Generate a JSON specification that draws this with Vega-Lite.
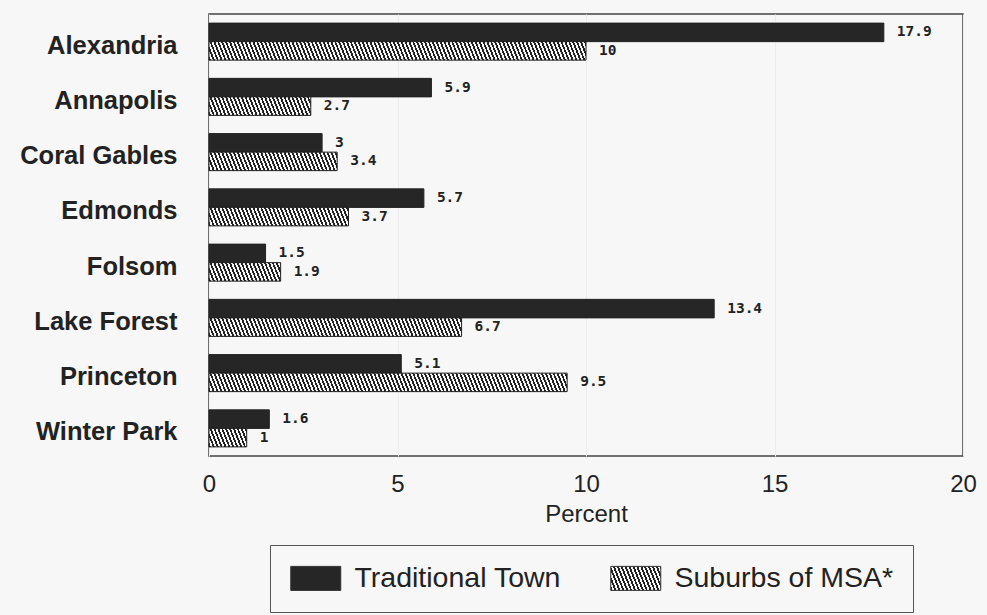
{
"$schema":"https://vega.github.io/schema/vega-lite/v6.json",
"width":754,"height":442,
"autosize":{"type":"none"},
"padding":{"left":209,"top":14,"right":24,"bottom":159},
"background":"#f7f7f7",
"params":[{"name":"hatch","value":[
{"offset":0,"color":"#222"},
{"offset":0.005,"color":"#222"},{"offset":0.005,"color":"#f7f7f7"},{"offset":0.01,"color":"#f7f7f7"},{"offset":0.01,"color":"#222"},
{"offset":0.015,"color":"#222"},{"offset":0.015,"color":"#f7f7f7"},{"offset":0.02,"color":"#f7f7f7"},{"offset":0.02,"color":"#222"},
{"offset":0.025,"color":"#222"},{"offset":0.025,"color":"#f7f7f7"},{"offset":0.03,"color":"#f7f7f7"},{"offset":0.03,"color":"#222"},
{"offset":0.035,"color":"#222"},{"offset":0.035,"color":"#f7f7f7"},{"offset":0.04,"color":"#f7f7f7"},{"offset":0.04,"color":"#222"},
{"offset":0.045,"color":"#222"},{"offset":0.045,"color":"#f7f7f7"},{"offset":0.05,"color":"#f7f7f7"},{"offset":0.05,"color":"#222"},
{"offset":0.055,"color":"#222"},{"offset":0.055,"color":"#f7f7f7"},{"offset":0.06,"color":"#f7f7f7"},{"offset":0.06,"color":"#222"},
{"offset":0.065,"color":"#222"},{"offset":0.065,"color":"#f7f7f7"},{"offset":0.07,"color":"#f7f7f7"},{"offset":0.07,"color":"#222"},
{"offset":0.075,"color":"#222"},{"offset":0.075,"color":"#f7f7f7"},{"offset":0.08,"color":"#f7f7f7"},{"offset":0.08,"color":"#222"},
{"offset":0.085,"color":"#222"},{"offset":0.085,"color":"#f7f7f7"},{"offset":0.09,"color":"#f7f7f7"},{"offset":0.09,"color":"#222"},
{"offset":0.095,"color":"#222"},{"offset":0.095,"color":"#f7f7f7"},{"offset":0.1,"color":"#f7f7f7"},{"offset":0.1,"color":"#222"},
{"offset":0.105,"color":"#222"},{"offset":0.105,"color":"#f7f7f7"},{"offset":0.11,"color":"#f7f7f7"},{"offset":0.11,"color":"#222"},
{"offset":0.115,"color":"#222"},{"offset":0.115,"color":"#f7f7f7"},{"offset":0.12,"color":"#f7f7f7"},{"offset":0.12,"color":"#222"},
{"offset":0.125,"color":"#222"},{"offset":0.125,"color":"#f7f7f7"},{"offset":0.13,"color":"#f7f7f7"},{"offset":0.13,"color":"#222"},
{"offset":0.135,"color":"#222"},{"offset":0.135,"color":"#f7f7f7"},{"offset":0.14,"color":"#f7f7f7"},{"offset":0.14,"color":"#222"},
{"offset":0.145,"color":"#222"},{"offset":0.145,"color":"#f7f7f7"},{"offset":0.15,"color":"#f7f7f7"},{"offset":0.15,"color":"#222"},
{"offset":0.155,"color":"#222"},{"offset":0.155,"color":"#f7f7f7"},{"offset":0.16,"color":"#f7f7f7"},{"offset":0.16,"color":"#222"},
{"offset":0.165,"color":"#222"},{"offset":0.165,"color":"#f7f7f7"},{"offset":0.17,"color":"#f7f7f7"},{"offset":0.17,"color":"#222"},
{"offset":0.175,"color":"#222"},{"offset":0.175,"color":"#f7f7f7"},{"offset":0.18,"color":"#f7f7f7"},{"offset":0.18,"color":"#222"},
{"offset":0.185,"color":"#222"},{"offset":0.185,"color":"#f7f7f7"},{"offset":0.19,"color":"#f7f7f7"},{"offset":0.19,"color":"#222"},
{"offset":0.195,"color":"#222"},{"offset":0.195,"color":"#f7f7f7"},{"offset":0.2,"color":"#f7f7f7"},{"offset":0.2,"color":"#222"},
{"offset":0.205,"color":"#222"},{"offset":0.205,"color":"#f7f7f7"},{"offset":0.21,"color":"#f7f7f7"},{"offset":0.21,"color":"#222"},
{"offset":0.215,"color":"#222"},{"offset":0.215,"color":"#f7f7f7"},{"offset":0.22,"color":"#f7f7f7"},{"offset":0.22,"color":"#222"},
{"offset":0.225,"color":"#222"},{"offset":0.225,"color":"#f7f7f7"},{"offset":0.23,"color":"#f7f7f7"},{"offset":0.23,"color":"#222"},
{"offset":0.235,"color":"#222"},{"offset":0.235,"color":"#f7f7f7"},{"offset":0.24,"color":"#f7f7f7"},{"offset":0.24,"color":"#222"},
{"offset":0.245,"color":"#222"},{"offset":0.245,"color":"#f7f7f7"},{"offset":0.25,"color":"#f7f7f7"},{"offset":0.25,"color":"#222"},
{"offset":0.255,"color":"#222"},{"offset":0.255,"color":"#f7f7f7"},{"offset":0.26,"color":"#f7f7f7"},{"offset":0.26,"color":"#222"},
{"offset":0.265,"color":"#222"},{"offset":0.265,"color":"#f7f7f7"},{"offset":0.27,"color":"#f7f7f7"},{"offset":0.27,"color":"#222"},
{"offset":0.275,"color":"#222"},{"offset":0.275,"color":"#f7f7f7"},{"offset":0.28,"color":"#f7f7f7"},{"offset":0.28,"color":"#222"},
{"offset":0.285,"color":"#222"},{"offset":0.285,"color":"#f7f7f7"},{"offset":0.29,"color":"#f7f7f7"},{"offset":0.29,"color":"#222"},
{"offset":0.295,"color":"#222"},{"offset":0.295,"color":"#f7f7f7"},{"offset":0.3,"color":"#f7f7f7"},{"offset":0.3,"color":"#222"},
{"offset":0.305,"color":"#222"},{"offset":0.305,"color":"#f7f7f7"},{"offset":0.31,"color":"#f7f7f7"},{"offset":0.31,"color":"#222"},
{"offset":0.315,"color":"#222"},{"offset":0.315,"color":"#f7f7f7"},{"offset":0.32,"color":"#f7f7f7"},{"offset":0.32,"color":"#222"},
{"offset":0.325,"color":"#222"},{"offset":0.325,"color":"#f7f7f7"},{"offset":0.33,"color":"#f7f7f7"},{"offset":0.33,"color":"#222"},
{"offset":0.335,"color":"#222"},{"offset":0.335,"color":"#f7f7f7"},{"offset":0.34,"color":"#f7f7f7"},{"offset":0.34,"color":"#222"},
{"offset":0.345,"color":"#222"},{"offset":0.345,"color":"#f7f7f7"},{"offset":0.35,"color":"#f7f7f7"},{"offset":0.35,"color":"#222"},
{"offset":0.355,"color":"#222"},{"offset":0.355,"color":"#f7f7f7"},{"offset":0.36,"color":"#f7f7f7"},{"offset":0.36,"color":"#222"},
{"offset":0.365,"color":"#222"},{"offset":0.365,"color":"#f7f7f7"},{"offset":0.37,"color":"#f7f7f7"},{"offset":0.37,"color":"#222"},
{"offset":0.375,"color":"#222"},{"offset":0.375,"color":"#f7f7f7"},{"offset":0.38,"color":"#f7f7f7"},{"offset":0.38,"color":"#222"},
{"offset":0.385,"color":"#222"},{"offset":0.385,"color":"#f7f7f7"},{"offset":0.39,"color":"#f7f7f7"},{"offset":0.39,"color":"#222"},
{"offset":0.395,"color":"#222"},{"offset":0.395,"color":"#f7f7f7"},{"offset":0.4,"color":"#f7f7f7"},{"offset":0.4,"color":"#222"},
{"offset":0.405,"color":"#222"},{"offset":0.405,"color":"#f7f7f7"},{"offset":0.41,"color":"#f7f7f7"},{"offset":0.41,"color":"#222"},
{"offset":0.415,"color":"#222"},{"offset":0.415,"color":"#f7f7f7"},{"offset":0.42,"color":"#f7f7f7"},{"offset":0.42,"color":"#222"},
{"offset":0.425,"color":"#222"},{"offset":0.425,"color":"#f7f7f7"},{"offset":0.43,"color":"#f7f7f7"},{"offset":0.43,"color":"#222"},
{"offset":0.435,"color":"#222"},{"offset":0.435,"color":"#f7f7f7"},{"offset":0.44,"color":"#f7f7f7"},{"offset":0.44,"color":"#222"},
{"offset":0.445,"color":"#222"},{"offset":0.445,"color":"#f7f7f7"},{"offset":0.45,"color":"#f7f7f7"},{"offset":0.45,"color":"#222"},
{"offset":0.455,"color":"#222"},{"offset":0.455,"color":"#f7f7f7"},{"offset":0.46,"color":"#f7f7f7"},{"offset":0.46,"color":"#222"},
{"offset":0.465,"color":"#222"},{"offset":0.465,"color":"#f7f7f7"},{"offset":0.47,"color":"#f7f7f7"},{"offset":0.47,"color":"#222"},
{"offset":0.475,"color":"#222"},{"offset":0.475,"color":"#f7f7f7"},{"offset":0.48,"color":"#f7f7f7"},{"offset":0.48,"color":"#222"},
{"offset":0.485,"color":"#222"},{"offset":0.485,"color":"#f7f7f7"},{"offset":0.49,"color":"#f7f7f7"},{"offset":0.49,"color":"#222"},
{"offset":0.495,"color":"#222"},{"offset":0.495,"color":"#f7f7f7"},{"offset":0.5,"color":"#f7f7f7"},{"offset":0.5,"color":"#222"},
{"offset":0.505,"color":"#222"},{"offset":0.505,"color":"#f7f7f7"},{"offset":0.51,"color":"#f7f7f7"},{"offset":0.51,"color":"#222"},
{"offset":0.515,"color":"#222"},{"offset":0.515,"color":"#f7f7f7"},{"offset":0.52,"color":"#f7f7f7"},{"offset":0.52,"color":"#222"},
{"offset":0.525,"color":"#222"},{"offset":0.525,"color":"#f7f7f7"},{"offset":0.53,"color":"#f7f7f7"},{"offset":0.53,"color":"#222"},
{"offset":0.535,"color":"#222"},{"offset":0.535,"color":"#f7f7f7"},{"offset":0.54,"color":"#f7f7f7"},{"offset":0.54,"color":"#222"},
{"offset":0.545,"color":"#222"},{"offset":0.545,"color":"#f7f7f7"},{"offset":0.55,"color":"#f7f7f7"},{"offset":0.55,"color":"#222"},
{"offset":0.555,"color":"#222"},{"offset":0.555,"color":"#f7f7f7"},{"offset":0.56,"color":"#f7f7f7"},{"offset":0.56,"color":"#222"},
{"offset":0.565,"color":"#222"},{"offset":0.565,"color":"#f7f7f7"},{"offset":0.57,"color":"#f7f7f7"},{"offset":0.57,"color":"#222"},
{"offset":0.575,"color":"#222"},{"offset":0.575,"color":"#f7f7f7"},{"offset":0.58,"color":"#f7f7f7"},{"offset":0.58,"color":"#222"},
{"offset":0.585,"color":"#222"},{"offset":0.585,"color":"#f7f7f7"},{"offset":0.59,"color":"#f7f7f7"},{"offset":0.59,"color":"#222"},
{"offset":0.595,"color":"#222"},{"offset":0.595,"color":"#f7f7f7"},{"offset":0.6,"color":"#f7f7f7"},{"offset":0.6,"color":"#222"},
{"offset":0.605,"color":"#222"},{"offset":0.605,"color":"#f7f7f7"},{"offset":0.61,"color":"#f7f7f7"},{"offset":0.61,"color":"#222"},
{"offset":0.615,"color":"#222"},{"offset":0.615,"color":"#f7f7f7"},{"offset":0.62,"color":"#f7f7f7"},{"offset":0.62,"color":"#222"},
{"offset":0.625,"color":"#222"},{"offset":0.625,"color":"#f7f7f7"},{"offset":0.63,"color":"#f7f7f7"},{"offset":0.63,"color":"#222"},
{"offset":0.635,"color":"#222"},{"offset":0.635,"color":"#f7f7f7"},{"offset":0.64,"color":"#f7f7f7"},{"offset":0.64,"color":"#222"},
{"offset":0.645,"color":"#222"},{"offset":0.645,"color":"#f7f7f7"},{"offset":0.65,"color":"#f7f7f7"},{"offset":0.65,"color":"#222"},
{"offset":0.655,"color":"#222"},{"offset":0.655,"color":"#f7f7f7"},{"offset":0.66,"color":"#f7f7f7"},{"offset":0.66,"color":"#222"},
{"offset":0.665,"color":"#222"},{"offset":0.665,"color":"#f7f7f7"},{"offset":0.67,"color":"#f7f7f7"},{"offset":0.67,"color":"#222"},
{"offset":0.675,"color":"#222"},{"offset":0.675,"color":"#f7f7f7"},{"offset":0.68,"color":"#f7f7f7"},{"offset":0.68,"color":"#222"},
{"offset":0.685,"color":"#222"},{"offset":0.685,"color":"#f7f7f7"},{"offset":0.69,"color":"#f7f7f7"},{"offset":0.69,"color":"#222"},
{"offset":0.695,"color":"#222"},{"offset":0.695,"color":"#f7f7f7"},{"offset":0.7,"color":"#f7f7f7"},{"offset":0.7,"color":"#222"},
{"offset":0.705,"color":"#222"},{"offset":0.705,"color":"#f7f7f7"},{"offset":0.71,"color":"#f7f7f7"},{"offset":0.71,"color":"#222"},
{"offset":0.715,"color":"#222"},{"offset":0.715,"color":"#f7f7f7"},{"offset":0.72,"color":"#f7f7f7"},{"offset":0.72,"color":"#222"},
{"offset":0.725,"color":"#222"},{"offset":0.725,"color":"#f7f7f7"},{"offset":0.73,"color":"#f7f7f7"},{"offset":0.73,"color":"#222"},
{"offset":0.735,"color":"#222"},{"offset":0.735,"color":"#f7f7f7"},{"offset":0.74,"color":"#f7f7f7"},{"offset":0.74,"color":"#222"},
{"offset":0.745,"color":"#222"},{"offset":0.745,"color":"#f7f7f7"},{"offset":0.75,"color":"#f7f7f7"},{"offset":0.75,"color":"#222"},
{"offset":0.755,"color":"#222"},{"offset":0.755,"color":"#f7f7f7"},{"offset":0.76,"color":"#f7f7f7"},{"offset":0.76,"color":"#222"},
{"offset":0.765,"color":"#222"},{"offset":0.765,"color":"#f7f7f7"},{"offset":0.77,"color":"#f7f7f7"},{"offset":0.77,"color":"#222"},
{"offset":0.775,"color":"#222"},{"offset":0.775,"color":"#f7f7f7"},{"offset":0.78,"color":"#f7f7f7"},{"offset":0.78,"color":"#222"},
{"offset":0.785,"color":"#222"},{"offset":0.785,"color":"#f7f7f7"},{"offset":0.79,"color":"#f7f7f7"},{"offset":0.79,"color":"#222"},
{"offset":0.795,"color":"#222"},{"offset":0.795,"color":"#f7f7f7"},{"offset":0.8,"color":"#f7f7f7"},{"offset":0.8,"color":"#222"},
{"offset":0.805,"color":"#222"},{"offset":0.805,"color":"#f7f7f7"},{"offset":0.81,"color":"#f7f7f7"},{"offset":0.81,"color":"#222"},
{"offset":0.815,"color":"#222"},{"offset":0.815,"color":"#f7f7f7"},{"offset":0.82,"color":"#f7f7f7"},{"offset":0.82,"color":"#222"},
{"offset":0.825,"color":"#222"},{"offset":0.825,"color":"#f7f7f7"},{"offset":0.83,"color":"#f7f7f7"},{"offset":0.83,"color":"#222"},
{"offset":0.835,"color":"#222"},{"offset":0.835,"color":"#f7f7f7"},{"offset":0.84,"color":"#f7f7f7"},{"offset":0.84,"color":"#222"},
{"offset":0.845,"color":"#222"},{"offset":0.845,"color":"#f7f7f7"},{"offset":0.85,"color":"#f7f7f7"},{"offset":0.85,"color":"#222"},
{"offset":0.855,"color":"#222"},{"offset":0.855,"color":"#f7f7f7"},{"offset":0.86,"color":"#f7f7f7"},{"offset":0.86,"color":"#222"},
{"offset":0.865,"color":"#222"},{"offset":0.865,"color":"#f7f7f7"},{"offset":0.87,"color":"#f7f7f7"},{"offset":0.87,"color":"#222"},
{"offset":0.875,"color":"#222"},{"offset":0.875,"color":"#f7f7f7"},{"offset":0.88,"color":"#f7f7f7"},{"offset":0.88,"color":"#222"},
{"offset":0.885,"color":"#222"},{"offset":0.885,"color":"#f7f7f7"},{"offset":0.89,"color":"#f7f7f7"},{"offset":0.89,"color":"#222"},
{"offset":0.895,"color":"#222"},{"offset":0.895,"color":"#f7f7f7"},{"offset":0.9,"color":"#f7f7f7"},{"offset":0.9,"color":"#222"},
{"offset":0.905,"color":"#222"},{"offset":0.905,"color":"#f7f7f7"},{"offset":0.91,"color":"#f7f7f7"},{"offset":0.91,"color":"#222"},
{"offset":0.915,"color":"#222"},{"offset":0.915,"color":"#f7f7f7"},{"offset":0.92,"color":"#f7f7f7"},{"offset":0.92,"color":"#222"},
{"offset":0.925,"color":"#222"},{"offset":0.925,"color":"#f7f7f7"},{"offset":0.93,"color":"#f7f7f7"},{"offset":0.93,"color":"#222"},
{"offset":0.935,"color":"#222"},{"offset":0.935,"color":"#f7f7f7"},{"offset":0.94,"color":"#f7f7f7"},{"offset":0.94,"color":"#222"},
{"offset":0.945,"color":"#222"},{"offset":0.945,"color":"#f7f7f7"},{"offset":0.95,"color":"#f7f7f7"},{"offset":0.95,"color":"#222"},
{"offset":0.955,"color":"#222"},{"offset":0.955,"color":"#f7f7f7"},{"offset":0.96,"color":"#f7f7f7"},{"offset":0.96,"color":"#222"},
{"offset":0.965,"color":"#222"},{"offset":0.965,"color":"#f7f7f7"},{"offset":0.97,"color":"#f7f7f7"},{"offset":0.97,"color":"#222"},
{"offset":0.975,"color":"#222"},{"offset":0.975,"color":"#f7f7f7"},{"offset":0.98,"color":"#f7f7f7"},{"offset":0.98,"color":"#222"},
{"offset":0.985,"color":"#222"},{"offset":0.985,"color":"#f7f7f7"},{"offset":0.99,"color":"#f7f7f7"},{"offset":0.99,"color":"#222"},
{"offset":0.995,"color":"#222"},{"offset":0.995,"color":"#f7f7f7"},{"offset":1,"color":"#f7f7f7"}
]}],
"data":{"values":[
{"city":"Alexandria","series":"Traditional Town","value":17.9},
{"city":"Alexandria","series":"Suburbs of MSA*","value":10},
{"city":"Annapolis","series":"Traditional Town","value":5.9},
{"city":"Annapolis","series":"Suburbs of MSA*","value":2.7},
{"city":"Coral Gables","series":"Traditional Town","value":3},
{"city":"Coral Gables","series":"Suburbs of MSA*","value":3.4},
{"city":"Edmonds","series":"Traditional Town","value":5.7},
{"city":"Edmonds","series":"Suburbs of MSA*","value":3.7},
{"city":"Folsom","series":"Traditional Town","value":1.5},
{"city":"Folsom","series":"Suburbs of MSA*","value":1.9},
{"city":"Lake Forest","series":"Traditional Town","value":13.4},
{"city":"Lake Forest","series":"Suburbs of MSA*","value":6.7},
{"city":"Princeton","series":"Traditional Town","value":5.1},
{"city":"Princeton","series":"Suburbs of MSA*","value":9.5},
{"city":"Winter Park","series":"Traditional Town","value":1.6},
{"city":"Winter Park","series":"Suburbs of MSA*","value":1}
]},
"config":{"view":{"stroke":"#444","strokeWidth":1.5},"font":"Liberation Sans"},
"encoding":{
"y":{"field":"city","type":"nominal","sort":["Alexandria","Annapolis","Coral Gables","Edmonds","Folsom","Lake Forest","Princeton","Winter Park"],"scale":{"paddingInner":0.33,"paddingOuter":0.165},"axis":{"title":null,"labelFontSize":25.5,"labelFontWeight":"bold","labelColor":"#222","labelPadding":32,"ticks":false,"domain":false,"labelOffset":4}},
"yOffset":{"field":"series","type":"nominal","sort":["Traditional Town","Suburbs of MSA*"],"scale":{"paddingInner":0}},
"x":{"field":"value","type":"quantitative","title":"Percent","scale":{"domain":[0,20],"nice":false},"axis":{"values":[0,5,10,15,20],"labelFontSize":24,"labelColor":"#222","labelFlush":false,"ticks":false,"domain":false,"labelPadding":16,"grid":true,"gridColor":"#ececec","titleFontSize":24,"titleFontWeight":"normal","titleColor":"#222","titlePadding":6}}
},
"layer":[
{"mark":{"type":"bar","stroke":"#222","strokeWidth":1},
"encoding":{
"fill":{"field":"series","type":"nominal",
"scale":{"domain":["Traditional Town","Suburbs of MSA*"],"range":["#262626",{"expr":"{gradient:'linear',x1:0,y1:1,x2:7.5227,y2:-0.4444,stops:hatch}"}]},
"condition":{"test":"datum.series==='Suburbs of MSA*'","value":{"expr":"{gradient:'linear',x1:0,y1:1,x2:390*datum.value*37.7/(pow(datum.value*37.7,2)+54.76),y2:1-2886/(pow(datum.value*37.7,2)+54.76),stops:hatch}"}},
"legend":{"orient":"none","legendX":61,"legendY":531,"direction":"horizontal","title":null,"strokeColor":"#555","padding":19,"columnPadding":47,"labelFontSize":28.5,"labelColor":"#222","labelOffset":37,"labelLimit":400,"symbolType":"M-1,-0.96H3V0.96H-1Z","symbolSize":625,"symbolStrokeColor":"#333","symbolStrokeWidth":1,"symbolOpacity":1}}
}},
{"mark":{"type":"text","align":"left","baseline":"middle","dx":13,"font":"DejaVu Sans Mono","fontWeight":"bold","fontSize":14.5,"color":"#222"},
"encoding":{"text":{"field":"value","type":"quantitative"}}}
]
}
